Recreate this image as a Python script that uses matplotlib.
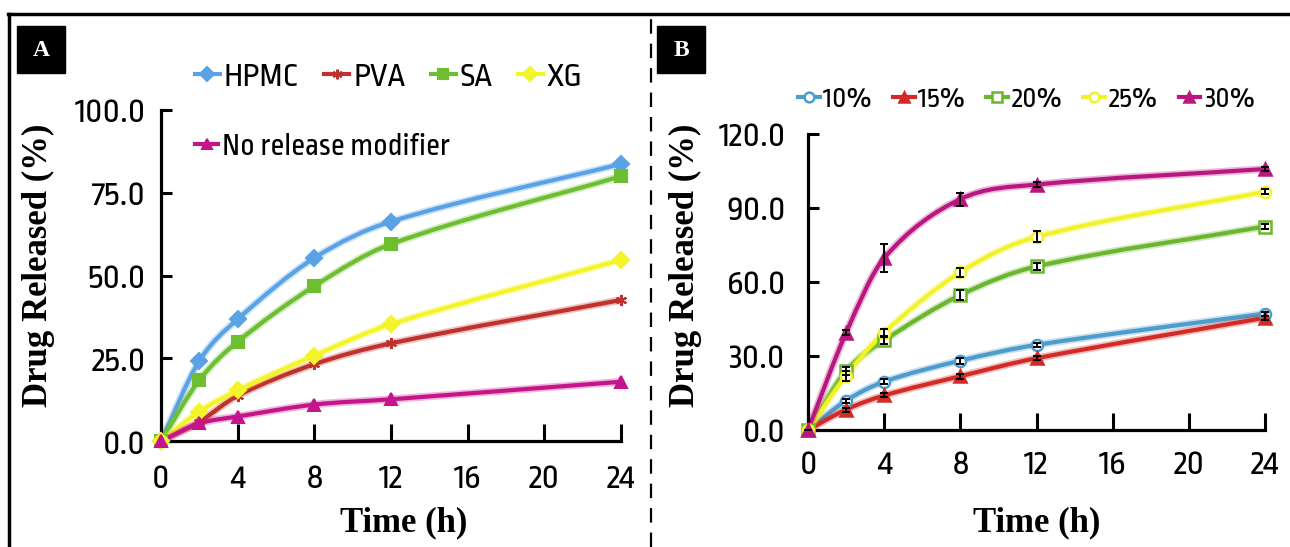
import matplotlib
matplotlib.use("Agg")
import matplotlib.pyplot as plt
from matplotlib import font_manager as fm
from matplotlib.path import Path
from matplotlib.patches import PathPatch, Rectangle
from matplotlib.lines import Line2D
from matplotlib.textpath import TextPath

# release time points (h)
time_h = [0, 2, 4, 8, 12, 24]

# panel A: release modifiers
hpmc = [0, 24.2, 36.8, 55.3, 66.3, 83.7]
pva = [0, 5.8, 13.7, 23.2, 29.5, 42.6]
sa = [0, 18.4, 30.0, 46.8, 59.5, 80.0]
xg = [0, 8.9, 15.3, 25.8, 35.3, 54.7]
no_mod = [0, 5.3, 7.4, 11.0, 12.6, 17.9]

# panel B: modifier concentration
p10 = [0, 11.9, 19.6, 28.1, 34.5, 47.2]
p15 = [0, 8.3, 14.0, 21.8, 29.1, 45.5]
p20 = [0, 24.0, 36.3, 54.7, 66.3, 82.5]
p25 = [0, 22.0, 39.5, 64.0, 78.3, 96.6]
p30 = [0, 39.4, 69.7, 93.6, 99.5, 105.8]
e10 = [0, 0.8, 1.0, 1.2, 0.8, 0.8]
e15 = [0, 0.8, 0.8, 1.0, 0.8, 0.8]
e20 = [0, 1.5, 1.5, 2.0, 1.5, 1.2]
e25 = [0, 2.0, 1.5, 1.8, 2.2, 1.0]
e30 = [0, 1.0, 5.7, 2.6, 1.0, 1.0]

SERIF = ["Liberation Serif", "DejaVu Serif"]
W, H = 1290, 547
SAMPLE = "100.0"
TARGET_PX = 69.0  # width of "100.0" in the original


def sample_px(fname, size):
    fp = fm.FontProperties(fname=fname, size=size)
    return TextPath((0, 0), SAMPLE, prop=fp).get_extents().width * 100 / 72


def narrow_font():
    # original uses a condensed arial-like face; take the regular sans closest to it
    best, best_d = None, None
    for f in fm.fontManager.ttflist:
        if f.style != "normal" or f.weight not in (400, "normal", "regular"):
            continue
        if "Serif" in f.name or "Mono" in f.name or "CJK" in f.name:
            continue
        if not any(k in f.name for k in ["Sans", "Roboto", "Lato", "Inter"]):
            continue
        try:
            w = sample_px(f.fname, 25)
        except Exception:
            continue
        d = abs(w - TARGET_PX)
        if best_d is None or d < best_d:
            best, best_d = f.fname, d
    return best


NARROW_FILE = narrow_font()
TICK_SIZE = max(20, min(31, 25 * TARGET_PX / sample_px(NARROW_FILE, 25)))


def nfont(size):
    return fm.FontProperties(fname=NARROW_FILE, size=size)


def smooth(ax, x, y, color):
    # hermite curve through the points, like the excel smoothed line
    n = len(x)
    m = []
    for i in range(n):
        a, b = max(i - 1, 0), min(i + 1, n - 1)
        m.append((y[b] - y[a]) / (x[b] - x[a]))
    verts = [(x[0], y[0])]
    codes = [Path.MOVETO]
    for i in range(n - 1):
        d = (x[i + 1] - x[i]) / 3
        verts += [(x[i] + d, y[i] + m[i] * d),
                  (x[i + 1] - d, y[i + 1] - m[i + 1] * d),
                  (x[i + 1], y[i + 1])]
        codes += [Path.CURVE4] * 3
    p = Path(verts, codes)
    ax.add_patch(PathPatch(p, fill=False, ec=color, lw=5.5, alpha=0.3, clip_on=False))
    ax.add_patch(PathPatch(p, fill=False, ec=color, lw=3, clip_on=False))


def setup(ax, yticks, xpad, ypad):
    for s in ["top", "right"]:
        ax.spines[s].set_visible(False)
    for s in ["left", "bottom"]:
        ax.spines[s].set_linewidth(2.3)
    ax.set_xlim(0, 24)
    ax.set_ylim(yticks[0], yticks[-1])
    ax.set_xticks(range(0, 25, 4))
    ax.set_yticks(yticks)
    ax.set_yticklabels([f"{v:.1f}" for v in yticks])
    ax.tick_params(axis="x", direction="in", length=12, width=2.2, pad=xpad)
    ax.tick_params(axis="y", direction="in", length=8, width=2.2, pad=ypad)
    for lab in ax.get_xticklabels() + ax.get_yticklabels():
        lab.set_fontproperties(nfont(TICK_SIZE))


fig = plt.figure(figsize=(W / 100, H / 100), dpi=100)
axA = fig.add_axes([161 / W, 1 - 441 / H, 460 / W, 331 / H])
axB = fig.add_axes([808 / W, 1 - 430 / H, 457 / W, 296 / H])

# ---- panel A
seriesA = [
    ("HPMC", hpmc, "#5AA2E6", "D", "#5AA2E6"),
    ("PVA", pva, "#C0302C", (6, 2, 0), "#C0302C"),
    ("SA", sa, "#6DBE30", "s", "#6DBE30"),
    ("XG", xg, "#F4F42A", "D", "#F4F42A"),
    ("No release modifier", no_mod, "#C4168A", "^", "#C4168A"),
]
handlesA = []
for name, vals, col, mk, fc in seriesA:
    smooth(axA, time_h, vals, col)
    axA.plot(time_h, vals, ls="none", marker=mk, ms=8, color=col, mfc=fc,
             mew=1.5, clip_on=False, zorder=4)
    handlesA.append(Line2D([], [], color=col, lw=3, marker=mk, ms=7, mfc=fc, mew=1.5))
setup(axA, [0, 25, 50, 75, 100], 16, 11)

# ---- panel B
seriesB = [
    ("10%", p10, e10, "#4D9CCB", "o", "white"),
    ("15%", p15, e15, "#D22A27", "^", "#D22A27"),
    ("20%", p20, e20, "#6AB62F", "s", "white"),
    ("25%", p25, e25, "#F2F22C", "o", "white"),
    ("30%", p30, e30, "#B8177F", "^", "#B8177F"),
]
handlesB = []
for name, vals, err, col, mk, fc in seriesB:
    smooth(axB, time_h, vals, col)
    axB.errorbar(time_h, vals, yerr=err, ls="none", ecolor="black", elinewidth=1.4,
                 capsize=3, capthick=1.4, zorder=5, clip_on=False)
    axB.plot(time_h, vals, ls="none", marker=mk, ms=8, color=col, mfc=fc,
             mew=1.8, clip_on=False, zorder=4)
    handlesB.append(Line2D([], [], color=col, lw=3, marker=mk, ms=7, mfc=fc, mew=1.8))
setup(axB, [0, 30, 60, 90, 120], 14, 16)

# axis labels
for ax, xl, yl in [(axA, 404, 38), (axB, 1037, 685)]:
    ax.set_xlabel("Time (h)", family=SERIF, weight="bold", fontsize=25)
    ax.set_ylabel("Drug Released (%)", family=SERIF, weight="bold", fontsize=25)
    ax.xaxis.set_label_coords(xl / W, 1 - 523 / H, transform=fig.transFigure)
    ax.yaxis.set_label_coords(yl / W, 1 - 265 / H, transform=fig.transFigure)
    ax.xaxis.label.set_va("center")
    ax.yaxis.label.set_va("center")


# legends, font size fitted so each row spans the same width as in the original
def fit_legend(handles, labels, ncol, x0, yc, x1):
    size = 23.0
    for _ in range(3):
        leg = fig.legend(handles, labels, ncol=ncol, frameon=False, prop=nfont(size),
                         handlelength=0.75, handletextpad=0.12, columnspacing=0.75,
                         borderpad=0, borderaxespad=0, loc="center left",
                         bbox_to_anchor=(x0 / W, 1 - yc / H))
        fig.canvas.draw()
        w = leg.get_window_extent().width
        if abs(w - (x1 - x0)) < 2:
            return leg
        leg.remove()
        size *= (x1 - x0) / w
    return fig.legend(handles, labels, ncol=ncol, frameon=False, prop=nfont(size),
                      handlelength=0.75, handletextpad=0.12, columnspacing=0.75,
                      borderpad=0, borderaxespad=0, loc="center left",
                      bbox_to_anchor=(x0 / W, 1 - yc / H))


fit_legend(handlesA[:4], [s[0] for s in seriesA[:4]], 4, 195, 77, 582)
fit_legend(handlesA[4:], [seriesA[4][0]], 1, 195, 147, 450)
fit_legend(handlesB, [s[0] for s in seriesB], 5, 798, 100, 1254)

# panel letters
for letter, x0 in [("A", 17), ("B", 657)]:
    fig.add_artist(Rectangle((x0 / W, 1 - 73 / H), 48 / W, 47 / H, transform=fig.transFigure,
                             color="black"))
    fig.text((x0 + 24) / W, 1 - 50 / H, letter, color="white", family=SERIF, weight="bold",
             fontsize=17, ha="center", va="center")

# frame and divider
fig.add_artist(Line2D([8 / W, 1], [1 - 14 / H] * 2, transform=fig.transFigure, color="black", lw=2.5))
fig.add_artist(Line2D([9 / W] * 2, [0, 1 - 14 / H], transform=fig.transFigure, color="black", lw=2.5))
fig.add_artist(Line2D([651 / W] * 2, [0, 1 - 14 / H], transform=fig.transFigure, color="black",
                      lw=1.6, ls=(0, (6.5, 4.5))))

fig.savefig("out.png", dpi=100)
